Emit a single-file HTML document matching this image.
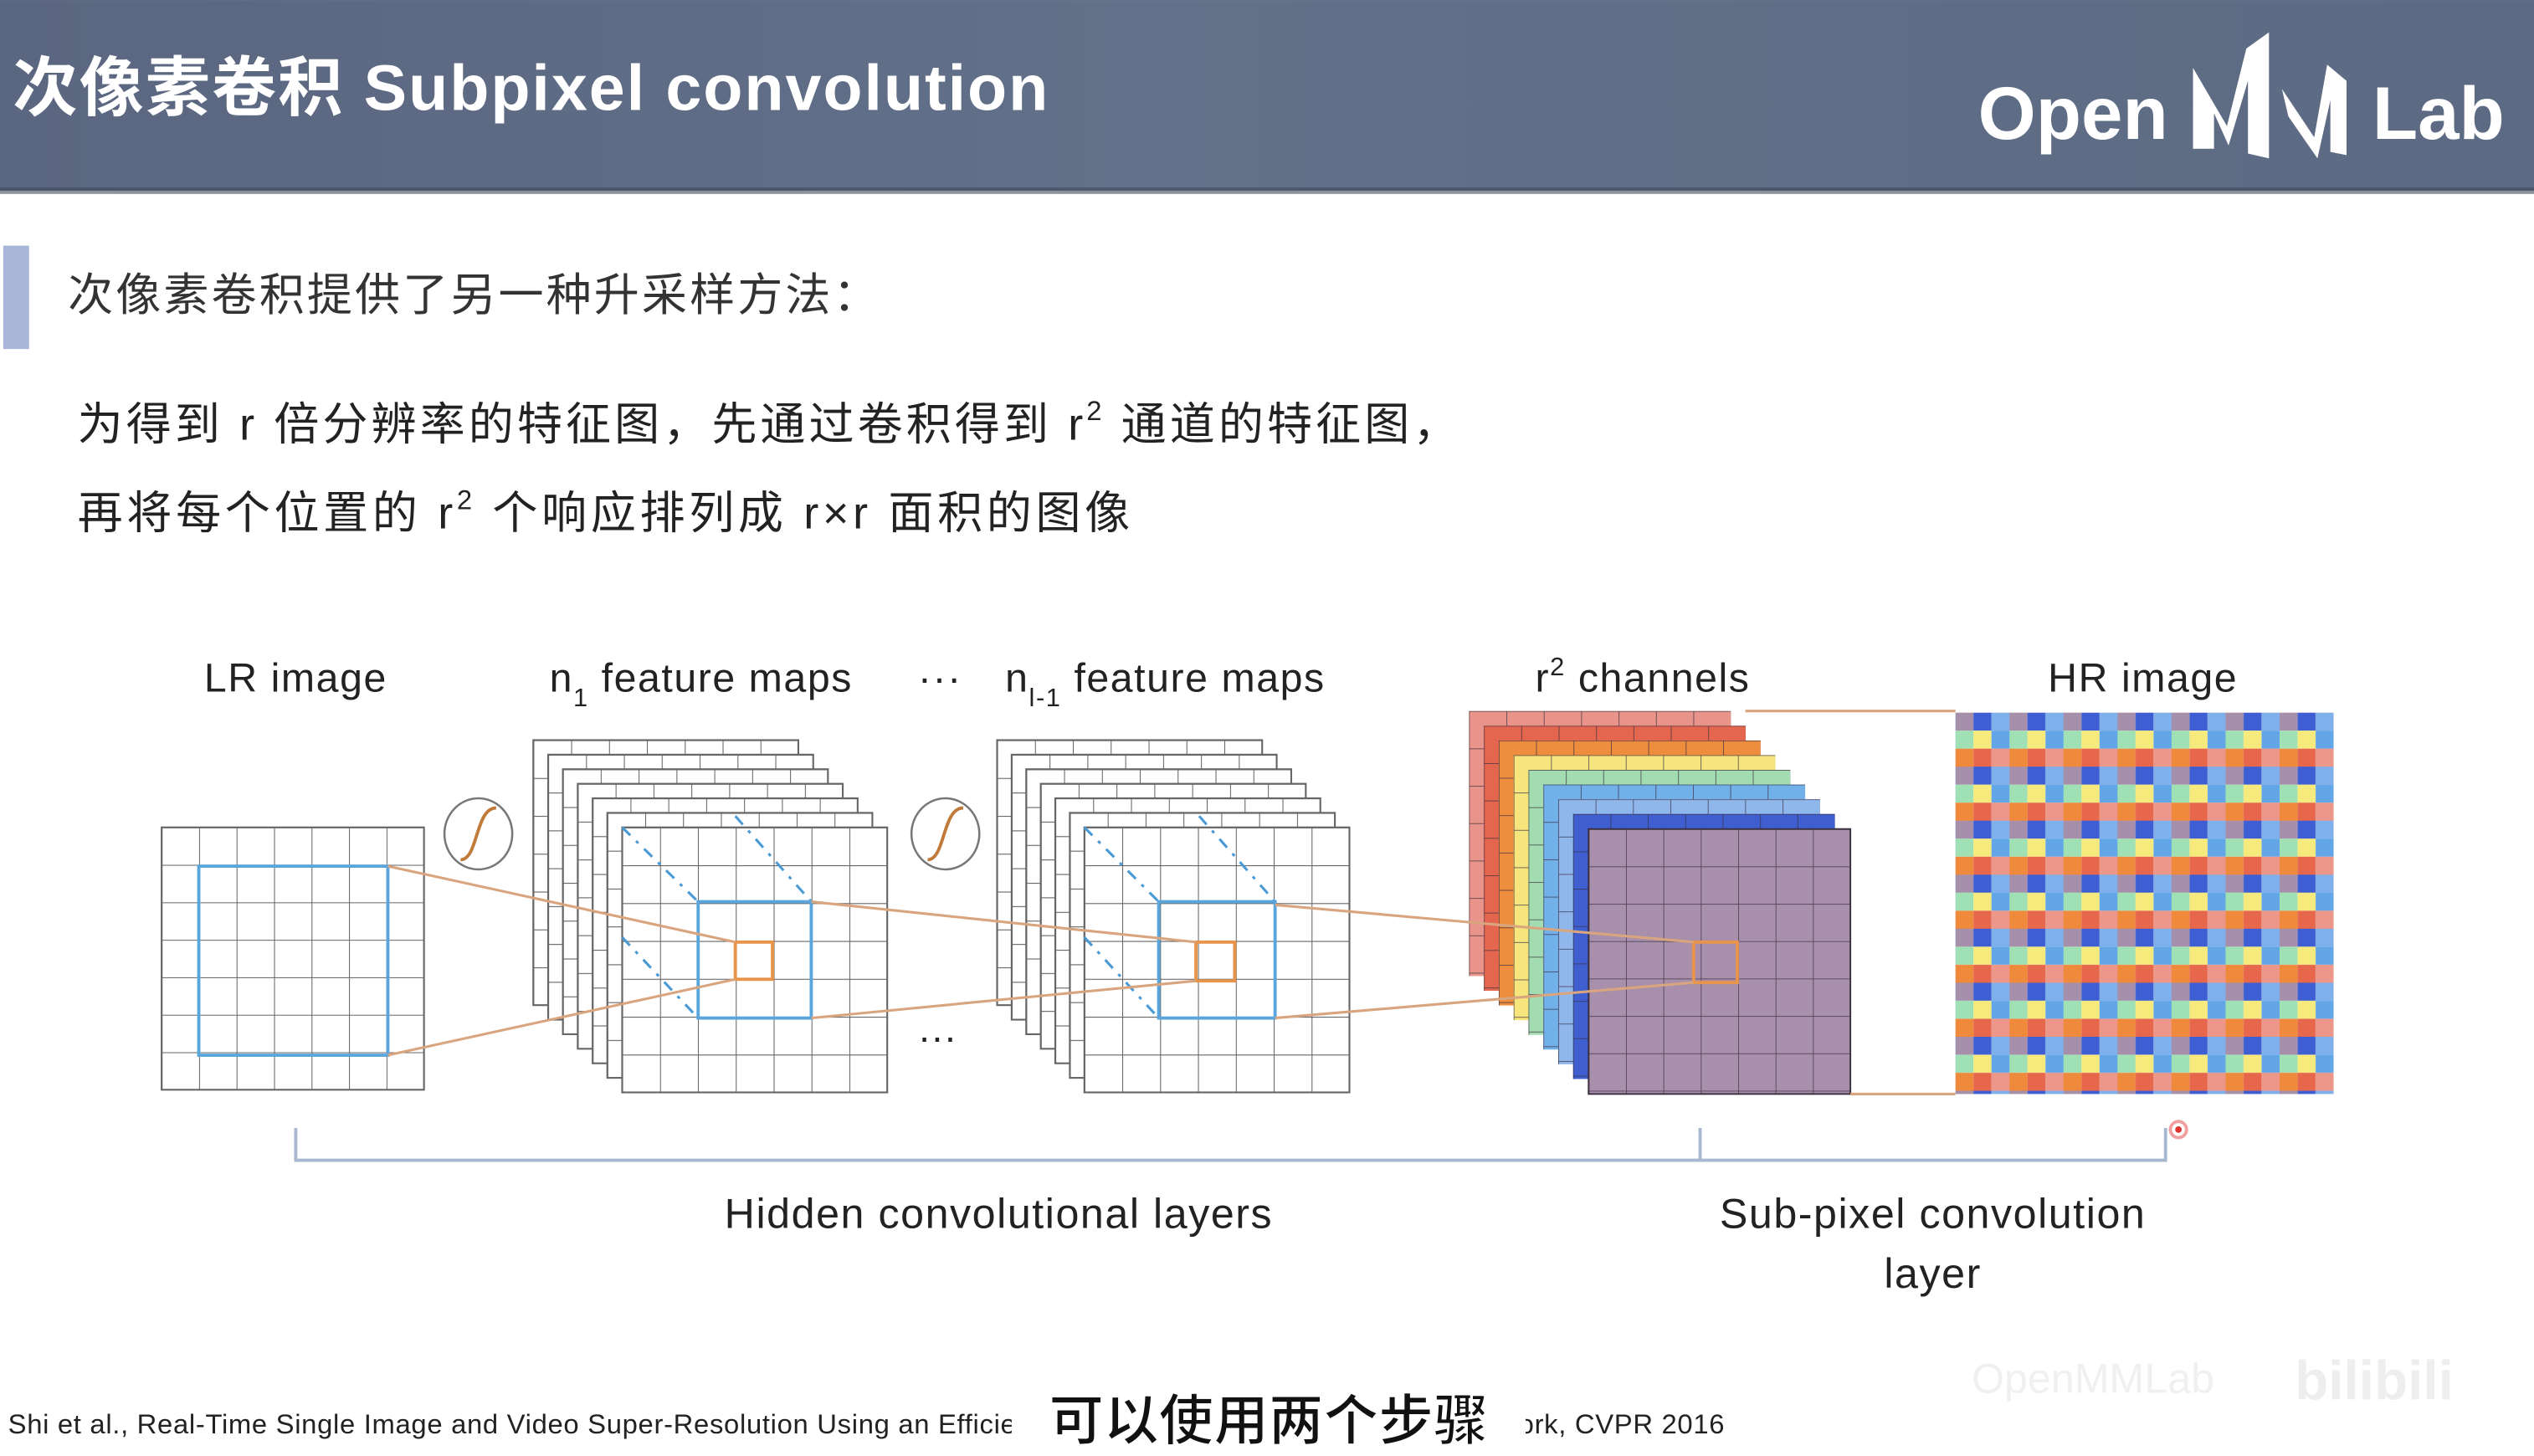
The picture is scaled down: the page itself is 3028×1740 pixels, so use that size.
<!DOCTYPE html>
<html><head><meta charset="utf-8">
<style>
html,body{margin:0;padding:0;background:#fff;}
svg{display:block;}
text{font-family:"Liberation Sans","Noto Sans CJK SC",sans-serif;}
</style></head>
<body>
<svg width="3028" height="1740" viewBox="0 0 1568 901" xmlns="http://www.w3.org/2000/svg">
<defs>
<linearGradient id="hdr" x1="0" y1="0" x2="1" y2="0">
<stop offset="0" stop-color="#5b6680"/><stop offset="0.45" stop-color="#627089"/><stop offset="1" stop-color="#5d6a83"/>
</linearGradient>
<pattern id="gw" width="23.43" height="23.43" patternUnits="userSpaceOnUse">
<path d="M0 0H23.43M0 0V23.43" stroke="#666" stroke-width="1.1" fill="none"/>
</pattern>
<pattern id="gc" width="23.14" height="23.14" patternUnits="userSpaceOnUse">
<path d="M0 0H23.14M0 0V23.14" stroke="#3a3040" stroke-width="0.9" fill="none" opacity="0.8"/>
</pattern>
<pattern id="hr" width="33.43" height="33.43" patternUnits="userSpaceOnUse">
<rect x="0" y="0" width="11.15" height="11.15" fill="#a68fab"/>
<rect x="11.14" y="0" width="11.15" height="11.15" fill="#3d5fd3"/>
<rect x="22.29" y="0" width="11.15" height="11.15" fill="#7fb0ec"/>
<rect x="0" y="11.14" width="11.15" height="11.15" fill="#9fe0b4"/>
<rect x="11.14" y="11.14" width="11.15" height="11.15" fill="#f7ea7c"/>
<rect x="22.29" y="11.14" width="11.15" height="11.15" fill="#62a6e8"/>
<rect x="0" y="22.29" width="11.15" height="11.15" fill="#ef8a3c"/>
<rect x="11.14" y="22.29" width="11.15" height="11.15" fill="#e6674c"/>
<rect x="22.29" y="22.29" width="11.15" height="11.15" fill="#ec978a"/>
</pattern>
<g id="wgrid">
<rect width="164" height="164" fill="#fff"/>
<rect width="164" height="164" fill="url(#gw)"/>
<rect width="164" height="164" fill="none" stroke="#666" stroke-width="1.1"/>
</g>
</defs>

<!-- header -->
<rect x="0" y="0" width="1568" height="118" fill="url(#hdr)"/>
<rect x="0" y="116" width="1568" height="4" fill="#40485a" opacity="0.6"/>
<text x="8" y="68" font-size="40" font-weight="bold" fill="#fff" letter-spacing="1">次像素卷积 Subpixel convolution</text>
<text x="1224" y="86" font-size="46" font-weight="bold" fill="#fff">Open</text>
<path d="M1357 92 V42 L1378 78 L1390 30 L1404 20 V98 L1391 95 V50 L1379 90 L1370 70 V92 Z" fill="#fff"/>
<path d="M1412 55 L1432 85 L1440 40 L1452 50 V96 L1442 94 V62 L1434 98 L1416 72 Z" fill="#fff"/>
<text x="1468" y="86" font-size="46" font-weight="bold" fill="#fff">Lab</text>

<!-- body text -->
<rect x="2" y="152" width="16" height="64" fill="#a9b6d8"/>
<text x="42" y="192" font-size="28" fill="#333" letter-spacing="1.6">次像素卷积提供了另一种升采样方法：</text>
<text x="48" y="272" font-size="28" fill="#222" letter-spacing="2.1">为得到 r 倍分辨率的特征图，先通过卷积得到 r<tspan font-size="17" dy="-12">2</tspan><tspan dy="12"> 通道的特征图，</tspan></text>
<text x="48" y="327" font-size="28" fill="#222" letter-spacing="2.4">再将每个位置的 r<tspan font-size="17" dy="-12">2</tspan><tspan dy="12"> 个响应排列成 r×r 面积的图像</tspan></text>

<!-- diagram labels -->
<g font-size="25" fill="#222" letter-spacing="0.8">
<text x="183" y="428" text-anchor="middle">LR image</text>
<text x="340" y="428">n<tspan font-size="16" dy="9">1</tspan><tspan dy="-9"> feature maps</tspan></text>
<text x="568" y="428">···</text>
<text x="622" y="428">n<tspan font-size="16" dy="9">l-1</tspan><tspan dy="-9"> feature maps</tspan></text>
<text x="950" y="428">r<tspan font-size="16" dy="-10">2</tspan><tspan dy="10"> channels</tspan></text>
<text x="1326" y="428" text-anchor="middle">HR image</text>
</g>

<!-- LR grid -->
<g transform="translate(100,512) scale(0.99)"><use href="#wgrid"/></g>
<rect x="123" y="536" width="117" height="117" fill="none" stroke="#5aa6dc" stroke-width="2"/>

<!-- sigmoids -->
<g fill="none">
<ellipse cx="296" cy="516" rx="21" ry="22" stroke="#777" stroke-width="1.3"/>
<path d="M285 532 C296 532 294 500 307 500" stroke="#c07a3a" stroke-width="2"/>
<ellipse cx="585" cy="516" rx="21" ry="22" stroke="#777" stroke-width="1.3"/>
<path d="M574 532 C585 532 583 500 596 500" stroke="#c07a3a" stroke-width="2"/>
</g>

<!-- stack 1 -->
<g>
<use href="#wgrid" x="330" y="458"/>
<use href="#wgrid" x="339.2" y="467"/>
<use href="#wgrid" x="348.3" y="476"/>
<use href="#wgrid" x="357.5" y="485"/>
<use href="#wgrid" x="366.7" y="494"/>
<use href="#wgrid" x="375.8" y="503"/>
<use href="#wgrid" x="385" y="512"/>
</g>
<g stroke="#4a9ad6" stroke-width="1.6" stroke-dasharray="7,5,2,5" fill="none">
<path d="M385 512 L432 558"/><path d="M455 505 L502 558"/><path d="M385 580 L432 630"/>
</g>
<rect x="432" y="558" width="70" height="72" fill="none" stroke="#5aa6dc" stroke-width="2"/>
<rect x="455" y="583" width="23" height="23" fill="none" stroke="#e8944a" stroke-width="2"/>

<!-- stack 2 -->
<g>
<use href="#wgrid" x="617" y="458"/>
<use href="#wgrid" x="626" y="467"/>
<use href="#wgrid" x="635" y="476"/>
<use href="#wgrid" x="644" y="485"/>
<use href="#wgrid" x="653" y="494"/>
<use href="#wgrid" x="662" y="503"/>
<use href="#wgrid" x="671" y="512"/>
</g>
<g stroke="#4a9ad6" stroke-width="1.6" stroke-dasharray="7,5,2,5" fill="none">
<path d="M671 512 L717 558"/><path d="M742 505 L789 558"/><path d="M671 580 L717 630"/>
</g>
<rect x="717" y="558" width="72" height="72" fill="none" stroke="#5aa6dc" stroke-width="2"/>
<rect x="740" y="583" width="24" height="24" fill="none" stroke="#e8944a" stroke-width="2"/>
<text x="568" y="650" font-size="24" fill="#222">···</text>

<!-- r^2 channels -->
<g transform="translate(909,440)"><rect width="162" height="164" fill="#e8948a"/><rect width="162" height="164" fill="url(#gc)"/></g>
<g transform="translate(918.2,449.1)"><rect width="162" height="164" fill="#e4664f"/><rect width="162" height="164" fill="url(#gc)"/></g>
<g transform="translate(927.4,458.2)"><rect width="162" height="164" fill="#ee8d3e"/><rect width="162" height="164" fill="url(#gc)"/></g>
<g transform="translate(936.6,467.3)"><rect width="162" height="164" fill="#f6e57c"/><rect width="162" height="164" fill="url(#gc)"/></g>
<g transform="translate(945.8,476.4)"><rect width="162" height="164" fill="#a3dcb0"/><rect width="162" height="164" fill="url(#gc)"/></g>
<g transform="translate(955,485.5)"><rect width="162" height="164" fill="#72b0ea"/><rect width="162" height="164" fill="url(#gc)"/></g>
<g transform="translate(964.2,494.6)"><rect width="162" height="164" fill="#8fb7ec"/><rect width="162" height="164" fill="url(#gc)"/></g>
<g transform="translate(973.4,503.7)"><rect width="162" height="164" fill="#3f5fd0"/><rect width="162" height="164" fill="url(#gc)"/></g>
<g transform="translate(983,513)"><rect width="162" height="164" fill="#a88fab"/><rect width="162" height="164" fill="url(#gc)"/><rect width="162" height="164" fill="none" stroke="#3a3040" stroke-width="1"/></g>
<rect x="1048" y="583" width="27" height="25" fill="none" stroke="#e8944a" stroke-width="2"/>

<!-- HR image -->
<g transform="translate(1210,441)"><rect width="234" height="236" fill="url(#hr)"/></g>

<!-- connectors -->
<g stroke="#d9a57e" stroke-width="1.6" fill="none">
<path d="M240 536 L455 583"/><path d="M240 653 L455 606"/>
<path d="M502 558 L740 583"/><path d="M502 630 L740 607"/>
<path d="M789 560 L1048 583"/><path d="M789 630 L1048 608"/>
<path d="M1080 440 L1210 440"/><path d="M1145 677 L1210 677"/>
</g>

<!-- brackets -->
<path d="M183 698 V718 H1340 V698 M1052 698 V718" stroke="#a8b8d0" stroke-width="2" fill="none"/>
<circle cx="1348" cy="699" r="5" fill="none" stroke="#f0a0a0" stroke-width="2"/>
<circle cx="1348" cy="699" r="2" fill="#e03030"/>
<g font-size="26" fill="#222" letter-spacing="0.8">
<text x="618" y="760" text-anchor="middle">Hidden convolutional layers</text>
<text x="1196" y="760" text-anchor="middle">Sub-pixel convolution</text>
<text x="1196" y="797" text-anchor="middle">layer</text>
</g>

<!-- footer -->
<text x="5" y="887" font-size="17" fill="#222" letter-spacing="0.35">Shi et al., Real-Time Single Image and Video Super-Resolution Using an Efficient Sub-Pixel Convolutional Neural Network, CVPR 2016</text>
<rect x="626" y="858" width="318" height="40" fill="#fff"/>
<text x="785" y="891" font-size="34" font-weight="bold" text-anchor="middle" fill="#111" stroke="#fff" stroke-width="1">可以使用两个步骤</text>
<text x="1220" y="862" font-size="26" fill="#f0f0f0">OpenMMLab</text>
<text x="1420" y="866" font-size="34" font-weight="bold" fill="#eeeeee">bilibili</text>
</svg>
</body></html>
